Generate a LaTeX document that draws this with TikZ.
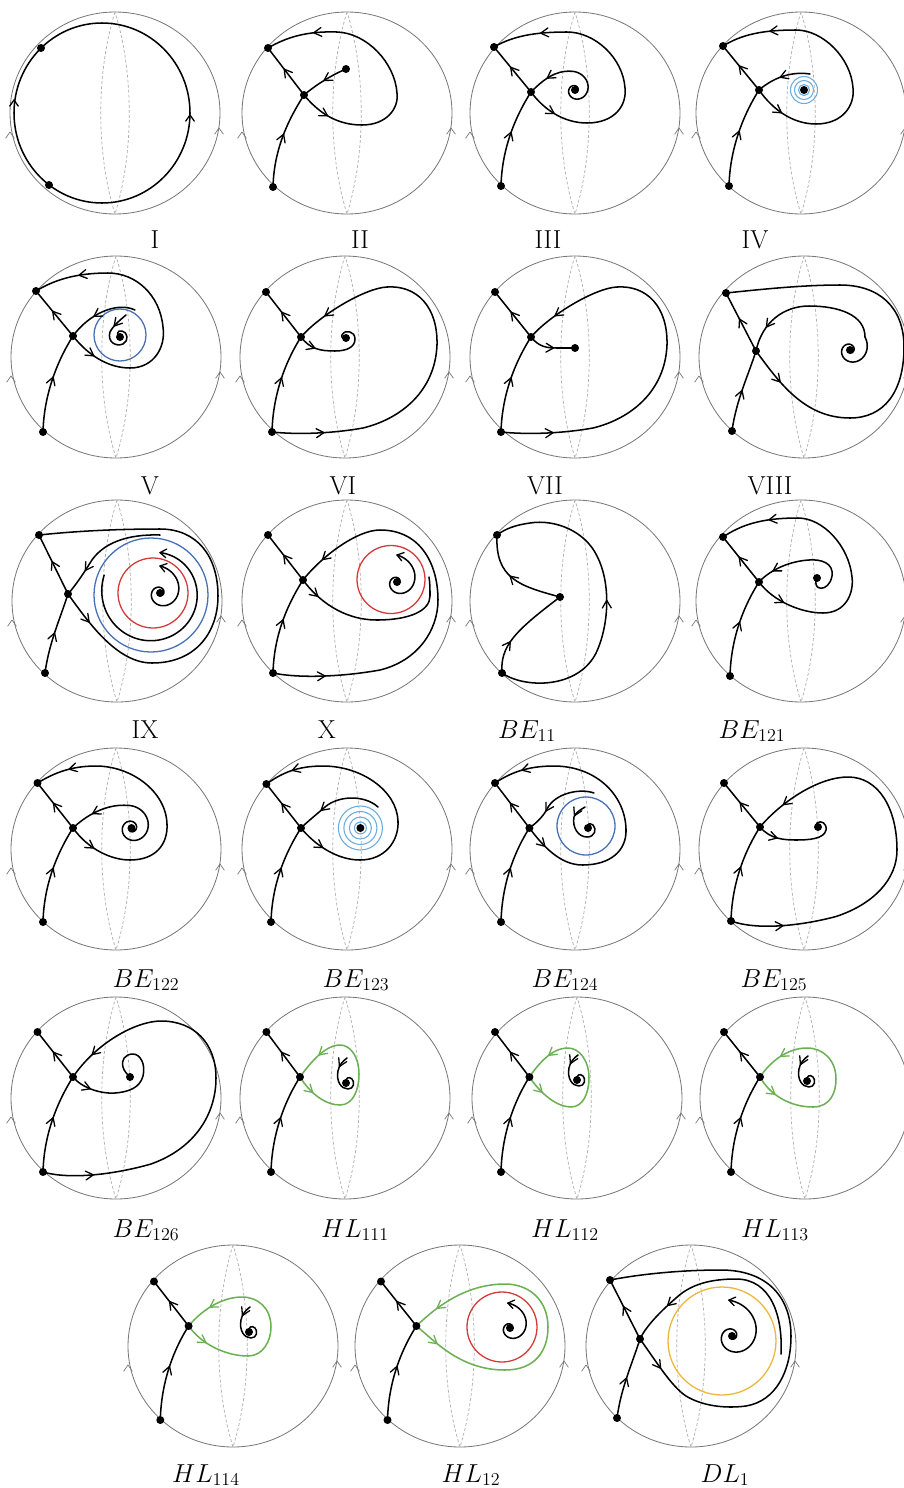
\documentclass[tikz,border=0pt]{standalone}
\usetikzlibrary{decorations.markings}
\definecolor{bndc}{RGB}{120,120,120}
\definecolor{lensc}{RGB}{175,175,175}
\definecolor{ltblue}{RGB}{105,172,222}
\definecolor{dblue}{RGB}{72,112,182}
\definecolor{redc}{RGB}{212,58,58}
\definecolor{grnc}{RGB}{108,176,84}
\definecolor{orc}{RGB}{238,182,62}
\tikzset{
 traj/.style={draw=black,line width=1.3pt,line cap=round,line join=round},
 grn/.style={draw=grnc,line width=1.3pt,line cap=round,line join=round},
 bnd/.style={draw=bndc,line width=0.7pt},
 lens/.style={draw=lensc,line width=0.6pt,dash pattern=on 2.5pt off 1.8pt},
 chevst/.style={draw=black,line width=1.1pt,line cap=round,line join=round,solid},
 gchevst/.style={draw=grnc,line width=1.1pt,line cap=round,line join=round,solid},
 bchev/.style={draw=bndc,line width=0.6pt,line cap=round,line join=round},
 marr/.style={postaction={decorate,decoration={markings,mark=at position #1 with {\draw[chevst] (-6.5pt,3.8pt) -- (0pt,0pt) -- (-6.5pt,-3.8pt);}}}},
 rarr/.style={postaction={decorate,decoration={markings,mark=at position #1 with {\draw[chevst] (6.5pt,3.8pt) -- (0pt,0pt) -- (6.5pt,-3.8pt);}}}},
 gmarr/.style={postaction={decorate,decoration={markings,mark=at position #1 with {\draw[gchevst] (-6.5pt,3.8pt) -- (0pt,0pt) -- (-6.5pt,-3.8pt);}}}},
 lbl/.style={anchor=base,font=\huge,scale=1.07,inner sep=0pt},
}
\newcommand\chev[4][chevst]{\draw[#1] ({#2},{#3}) ++(#4+145:7.5) -- ({#2},{#3}) -- ++(#4-145:7.5);}
\newcommand\pbase{%
 \draw[bnd] (0,0) ellipse [x radius=31.5mm, y radius=30.3mm];
 \draw[lens] (0,-101) .. controls (-19,-40) and (-19,40) .. (0,101) .. controls (19,40) and (19,-40) .. (0,-101);
 \chev[bchev]{-105}{19}{-90}
 \chev[bchev]{104}{15}{-90}}
\newcommand\legs{%
 \draw[traj,marr=0.55] (P2) .. controls +(1,-40) and +(-14,22) .. (S);
 \draw[traj,marr=0.55] (S) -- (P1);}
\newcommand\pdot[1]{\fill (#1) circle[radius=1.2mm];}
% inward clockwise spiral: cx cy r0 a0 decay span
\newcommand\spircw[6]{\draw[traj] plot[domain=0:#6,samples=110,smooth,variable=\t] ({#1+#3*exp(-\t/#5)*cos(#4+\t)},{#2+#3*exp(-\t/#5)*sin(#4+\t)});}
% outward counterclockwise spiral ending with an arrow: cx cy R A decay span
\newcommand\spout[6]{\draw[traj] plot[domain=0:#6,samples=130,smooth,variable=\t] ({#1+#3*exp((\t-#6)/#5)*cos(#4+#6-\t)},{#2+#3*exp((\t-#6)/#5)*sin(#4+#6-\t)});
 \chev{#1+#3*cos(#4)}{#2+#3*sin(#4)}{#4-74}}
\begin{document}
\begin{tikzpicture}[x=0.3mm,y=-0.3mm]
\useasboundingbox (0,0) rectangle (904,1488);
\fill[white] (0,0) rectangle (904,1488);
% ---------- I
\begin{scope}[shift={(115,113)}]
\pbase
\draw[traj] (-13,0) ellipse [x radius=26.4mm, y radius=27mm];
\coordinate (P1) at (-74,-65); \coordinate (P2) at (-66,72);
\chev{-101}{-13}{-90}
\chev{75}{2}{-90}
\pdot{P1}\pdot{P2}
\end{scope}
% ---------- II
\begin{scope}[shift={(347,113)}]
\pbase
\coordinate (P1) at (-79,-65); \coordinate (S) at (-43,-18); \coordinate (P2) at (-74,74); \coordinate (N) at (-1,-44);
\legs
\draw[traj,marr=0.5] (N) .. controls (-15,-38) and (-30,-29) .. (S);
\draw[traj,marr=0.11,marr=0.83] (S) .. controls (-28,0) and (-10,12) .. (15,12) .. controls (40,12) and (52,-5) .. (50,-20) .. controls (48,-50) and (20,-80) .. (-10,-81) .. controls (-40,-82) and (-60,-76) .. (P1);
\pdot{P1}\pdot{S}\pdot{P2}\pdot{N}
\end{scope}
% ---------- III
\begin{scope}[shift={(575,113)}]
\pbase
\coordinate (P1) at (-81,-66); \coordinate (S) at (-44,-21); \coordinate (P2) at (-74,73); \coordinate (F) at (0,-23);
\legs
\spircw{0}{-23}{19}{-100}{250}{500}
\draw[traj,marr=0.55] (-3.3,-41.7) .. controls (-20,-43) and (-32,-33) .. (S);
\draw[traj,marr=0.11,marr=0.83] (S) .. controls (-30,-2) and (-10,10) .. (12,10) .. controls (40,10) and (52,-8) .. (50,-25) .. controls (48,-55) and (20,-81) .. (-8,-81) .. controls (-40,-81) and (-62,-77) .. (P1);
\pdot{P1}\pdot{S}\pdot{P2}\pdot{F}
\end{scope}
% ---------- IV
\begin{scope}[shift={(801,113)}]
\pbase
\coordinate (P1) at (-78,-67); \coordinate (S) at (-42,-23); \coordinate (P2) at (-72,73); \coordinate (F) at (3,-23);
\foreach \r in {1.65mm,2.85mm,4.05mm} \draw[ltblue,line width=0.9pt] (F) circle[radius=\r];
\legs
\draw[traj,marr=0.55] (9,-39) .. controls (-10,-42) and (-28,-35) .. (S);
\draw[traj,marr=0.11,marr=0.83] (S) .. controls (-28,-3) and (-8,11) .. (15,11) .. controls (42,11) and (54,-8) .. (52,-25) .. controls (50,-55) and (22,-83) .. (-5,-83) .. controls (-40,-83) and (-60,-78) .. (P1);
\pdot{P1}\pdot{S}\pdot{P2}\pdot{F}
\end{scope}
% ---------- V
\begin{scope}[shift={(116,357)}]
\pbase
\coordinate (P1) at (-80,-66); \coordinate (S) at (-43,-21); \coordinate (P2) at (-73,75); \coordinate (F) at (4,-20);
\draw[dblue,line width=1.1pt] (4,-22) circle[radius=7.8mm];
\legs
\draw[traj,marr=0.6] (19,-47) .. controls (0,-56) and (-28,-42) .. (S);
\draw[traj,marr=0.22] (10,-42) .. controls (4,-37) and (-3,-31) .. (-6,-25) .. controls (-9,-15) and (0,-10) .. (7,-13) .. controls (13,-16) and (12,-25) .. (6,-26) .. controls (1,-27) and (0,-22) .. (F);
\draw[traj,marr=0.1,marr=0.84] (S) .. controls (-28,-2) and (-8,11) .. (14,11) .. controls (38,11) and (50,-10) .. (47,-30) .. controls (44,-62) and (20,-84) .. (-8,-84) .. controls (-40,-84) and (-62,-77) .. (P1);
\pdot{P1}\pdot{S}\pdot{P2}\pdot{F}
\end{scope}
% ---------- VI
\begin{scope}[shift={(345,357)}]
\pbase
\coordinate (P1) at (-79,-65); \coordinate (S) at (-44,-20); \coordinate (P2) at (-73,75); \coordinate (F) at (1,-19);
\legs
\draw[traj,marr=0.2] (S) .. controls (-35,-8) and (-25,-6) .. (-10,-6) .. controls (2,-6) and (10,-10) .. (10,-18) .. controls (10,-26) and (0,-28) .. (-3,-22) .. controls (-4,-19) and (-1,-18) .. (F);
\draw[traj,marr=0.13,marr=0.92] (P2) .. controls (-45,78) and (-10,76) .. (18,71) .. controls (55,62) and (90,35) .. (92,-12) .. controls (93,-50) and (72,-72) .. (42,-70) .. controls (20,-69) and (-25,-42) .. (S);
\pdot{P1}\pdot{S}\pdot{P2}\pdot{F}
\end{scope}
% ---------- VII
\begin{scope}[shift={(575,357)}]
\pbase
\coordinate (P1) at (-80,-65); \coordinate (S) at (-44,-20); \coordinate (P2) at (-74,75); \coordinate (N) at (0,-9);
\legs
\draw[traj,marr=0.55] (S) .. controls (-36,-10) and (-28,-9) .. (-18,-9) -- (N);
\draw[traj,marr=0.13,marr=0.92] (P2) .. controls (-45,78) and (-10,76) .. (18,71) .. controls (55,62) and (90,35) .. (92,-12) .. controls (93,-50) and (72,-72) .. (42,-70) .. controls (20,-69) and (-25,-42) .. (S);
\pdot{P1}\pdot{S}\pdot{P2}\pdot{N}
\end{scope}
% ---------- VIII
\begin{scope}[shift={(804,357)}]
\pbase
\coordinate (P1) at (-78,-64); \coordinate (S) at (-48,-6); \coordinate (P2) at (-72,74); \coordinate (F) at (46,-7);
\draw[traj,marr=0.5] (P2) .. controls +(4,-30) and +(-8,25) .. (S);
\draw[traj,marr=0.55] (S) -- (P1);
\draw[traj,marr=0.09] (S) .. controls (-25,25) and (0,61) .. (46,61) .. controls (80,61) and (100,35) .. (100,-10) .. controls (100,-50) and (75,-72) .. (36,-72) .. controls (0,-72) and (-40,-68) .. (P1);
\draw[traj,rarr=0.18] (S) .. controls (-42,-35) and (-20,-51) .. (5,-51) .. controls (35,-51) and (61,-42) .. (61,-20);
\spircw{46}{-7}{19.8}{-41}{250}{600}
\pdot{P1}\pdot{S}\pdot{P2}\pdot{F}
\end{scope}
% ---------- IX
\begin{scope}[shift={(117,601)}]
\pbase
\coordinate (P1) at (-78,-66); \coordinate (S) at (-49,-7); \coordinate (P2) at (-72,72); \coordinate (F) at (43,-8);
\draw[dblue,line width=1.1pt] (34,-6) circle[radius=17.1mm];
\draw[redc,line width=1.1pt] (36,-8) circle[radius=10.5mm];
\draw[traj,marr=0.5] (P2) .. controls +(4,-30) and +(-8,25) .. (S);
\draw[traj,marr=0.55] (S) -- (P1);
\draw[traj,marr=0.08] (S) .. controls (-28,22) and (0,62) .. (35,62) .. controls (80,62) and (101,30) .. (101,-5) .. controls (101,-45) and (80,-72) .. (43,-72) .. controls (0,-72) and (-40,-70) .. (P1);
\draw[traj,marr=0.75] (43,-66) .. controls (10,-67) and (-15,-58) .. (-27,-38) .. controls (-33,-28) and (-42,-15) .. (S);
\draw[traj] plot[domain=0:280,samples=80,smooth,variable=\t] ({36+(52-11*\t/280)*cos(200-\t)},{-8+(52-11*\t/280)*sin(200-\t)});
\chev{43.1}{-48.4}{187}
\spout{43}{-8}{27}{-90}{230}{720}
\pdot{P1}\pdot{S}\pdot{P2}\pdot{F}
\end{scope}
% ---------- X
\begin{scope}[shift={(347,601)}]
\pbase
\coordinate (P1) at (-79,-66); \coordinate (S) at (-44,-21); \coordinate (P2) at (-74,72); \coordinate (F) at (50,-19);
\draw[redc,line width=1.1pt] (44,-21.5) circle[radius=10.2mm];
\legs
\draw[traj,marr=0.13,marr=0.93] (P2) .. controls (-45,78) and (0,75) .. (33,69) .. controls (70,60) and (91,30) .. (91,-1) .. controls (91,-35) and (75,-71) .. (33,-71) .. controls (10,-71) and (-25,-45) .. (S);
\draw[traj,marr=0.13] (S) .. controls (-30,-2) and (-5,19) .. (30,19) .. controls (62,19) and (83,10) .. (83,-5) .. controls (83,-12) and (83,-18) .. (82,-24);
\spout{50}{-19}{27}{-90}{200}{720}
\pdot{P1}\pdot{S}\pdot{P2}\pdot{F}
\end{scope}
% ---------- BE11
\begin{scope}[shift={(575,601)}]
\pbase
\coordinate (P1) at (-78,-66); \coordinate (P2) at (-73,72); \coordinate (N) at (-15,-4);
\draw[traj,marr=0.55] (N) .. controls (-55,-15) and (-80,-22) .. (P1);
\draw[traj,marr=0.33] (P2) .. controls (-75,45) and (-60,30) .. (N);
\draw[traj,marr=0.5] (P2) .. controls (-50,88) and (5,88) .. (22,50) .. controls (35,20) and (35,-20) .. (22,-45) .. controls (10,-70) and (-20,-82) .. (-45,-78) .. controls (-60,-76) and (-70,-72) .. (P1);
\pdot{P1}\pdot{P2}\pdot{N}
\end{scope}
% ---------- BE121
\begin{scope}[shift={(801,601)}]
\pbase
\coordinate (P1) at (-78,-64); \coordinate (S) at (-42,-19); \coordinate (P2) at (-71,75); \coordinate (F) at (16,-23);
\legs
\draw[traj,marr=0.85] (F) .. controls (10,-10) and (28,-8) .. (31,-25) .. controls (33,-38) and (20,-42) .. (8,-41) .. controls (-10,-40) and (-30,-32) .. (S);
\draw[traj,marr=0.11,marr=0.83] (S) .. controls (-28,0) and (0,12) .. (22,12) .. controls (45,12) and (53,-8) .. (51,-24) .. controls (48,-55) and (22,-83) .. (-3,-83) .. controls (-40,-83) and (-60,-76) .. (P1);
\pdot{P1}\pdot{S}\pdot{P2}\pdot{F}
\end{scope}
% ---------- BE122
\begin{scope}[shift={(116,849)}]
\pbase
\coordinate (P1) at (-78.5,-66); \coordinate (S) at (-43,-21); \coordinate (P2) at (-73,73); \coordinate (F) at (15.5,-21);
\legs
\spircw{15.5}{-21}{23}{-100}{300}{700}
\draw[traj,marr=0.6] (11.5,-43.6) .. controls (-5,-45) and (-25,-38) .. (S);
\draw[traj,marr=0.1,marr=0.88] (S) .. controls (-28,0) and (-5,11) .. (14,11) .. controls (40,11) and (52,-5) .. (51,-25) .. controls (50,-58) and (15,-83) .. (-20,-83) .. controls (-45,-83) and (-62,-76) .. (P1);
\pdot{P1}\pdot{S}\pdot{P2}\pdot{F}
\end{scope}
% ---------- BE123
\begin{scope}[shift={(347,849)}]
\pbase
\coordinate (P1) at (-80.6,-65); \coordinate (S) at (-46,-21); \coordinate (P2) at (-76,73); \coordinate (F) at (13.4,-21);
\foreach \r in {1.8mm,3.3mm,4.95mm,6.6mm} \draw[ltblue,line width=0.9pt] (F) circle[radius=\r];
\legs
\draw[traj,marr=0.7] (31,-42) .. controls (18,-54) and (-8,-54) .. (-22,-42) .. controls (-30,-35) and (-40,-27) .. (S);
\draw[traj,marr=0.1,marr=0.9] (S) .. controls (-32,-4) and (-10,11) .. (13,11) .. controls (38,11) and (52,-8) .. (51,-28) .. controls (50,-58) and (15,-83) .. (-24,-83) .. controls (-50,-83) and (-65,-76) .. (P1);
\pdot{P1}\pdot{S}\pdot{P2}\pdot{F}
\end{scope}
% ---------- BE124
\begin{scope}[shift={(575,849)}]
\pbase
\coordinate (P1) at (-80,-66); \coordinate (S) at (-45.6,-21); \coordinate (P2) at (-74,73); \coordinate (F) at (13,-21);
\draw[dblue,line width=1.1pt] (11,-23) circle[radius=8.7mm];
\legs
\draw[traj,marr=0.7] (19,-56) .. controls (5,-61) and (-20,-56) .. (-28,-40) .. controls (-32,-32) and (-40,-25) .. (S);
\draw[traj,marr=0.2] (10,-42) .. controls (5,-39) and (0,-36) .. (-1,-32) .. controls (-3,-22) and (3,-12) .. (12,-12) .. controls (20,-12) and (22,-20) .. (18,-24) .. controls (14,-27) and (11,-24) .. (F);
\draw[traj,marr=0.08,marr=0.9] (S) .. controls (-32,-3) and (-15,16) .. (7.5,16) .. controls (35,16) and (52,2) .. (51,-20) .. controls (50,-55) and (20,-83) .. (-21,-83) .. controls (-48,-83) and (-65,-76) .. (P1);
\pdot{P1}\pdot{S}\pdot{P2}\pdot{F}
\end{scope}
% ---------- BE125
\begin{scope}[shift={(804,849)}]
\pbase
\coordinate (P1) at (-80,-66); \coordinate (S) at (-44,-22); \coordinate (P2) at (-73,72); \coordinate (F) at (14,-22);
\legs
\draw[traj,marr=0.22] (S) .. controls (-34,-10) and (-20,-9) .. (-8,-9) .. controls (5,-9) and (20,-10) .. (22,-19) .. controls (23,-26) and (17,-29) .. (13,-26) .. controls (11,-24) and (12,-22) .. (F);
\draw[traj,marr=0.13,marr=0.92] (P2) .. controls (-45,82) and (0,76) .. (32,67.5) .. controls (70,55) and (93,30) .. (93,1) .. controls (93,-40) and (75,-72) .. (44,-72) .. controls (15,-72) and (-22,-48) .. (S);
\pdot{P1}\pdot{S}\pdot{P2}\pdot{F}
\end{scope}
% ---------- BE126
\begin{scope}[shift={(116,1098)}]
\pbase
\coordinate (P1) at (-78.5,-66); \coordinate (S) at (-43,-21); \coordinate (P2) at (-73,74); \coordinate (F) at (14,-21);
\legs
\draw[traj,marr=0.15] (S) .. controls (-34,-10) and (-15,-4) .. (-1,-5) .. controls (12,-6) and (24,-10) .. (27,-22) .. controls (30,-34) and (24,-44) .. (17,-44) .. controls (9,-44) and (5,-38) .. (7,-31) .. controls (8,-27) and (11,-24) .. (F);
\draw[traj,marr=0.12,marr=0.93] (P2) .. controls (-45,82) and (0,76) .. (35,66) .. controls (80,50) and (100,15) .. (100,-20) .. controls (100,-55) and (78,-77) .. (45,-77) .. controls (20,-77) and (-20,-55) .. (S);
\pdot{P1}\pdot{S}\pdot{P2}\pdot{F}
\end{scope}
% ---------- HL111
\begin{scope}[shift={(345,1098)}]
\pbase
\coordinate (P1) at (-78.6,-66); \coordinate (S) at (-45,-21); \coordinate (P2) at (-74,74); \coordinate (F) at (1,-15);
\legs
\draw[grn,gmarr=0.11,gmarr=0.84] (S) .. controls (-35,-5) and (-20,7) .. (-5,7) .. controls (8,7) and (14,-8) .. (14,-24) .. controls (14,-42) and (5,-53) .. (-5,-53) .. controls (-20,-53) and (-35,-35) .. (S);
\draw[traj,marr=0.18] (2,-40) .. controls (-2,-37) and (-6,-33) .. (-7,-27) .. controls (-9,-17) and (-4,-9) .. (3,-9) .. controls (9,-9) and (10,-16) .. (7,-19) .. controls (4,-22) and (0,-20) .. (F);
\pdot{P1}\pdot{S}\pdot{P2}\pdot{F}
\end{scope}
% ---------- HL112
\begin{scope}[shift={(577,1098)}]
\pbase
\coordinate (P1) at (-82,-66); \coordinate (S) at (-47.6,-21); \coordinate (P2) at (-76,74); \coordinate (F) at (0,-18);
\legs
\draw[grn,gmarr=0.11,gmarr=0.84] (S) .. controls (-36,-4) and (-20,9) .. (-6,9) .. controls (6,9) and (12,-5) .. (12,-20) .. controls (12,-38) and (2,-50) .. (-9,-50) .. controls (-25,-50) and (-38,-35) .. (S);
\draw[traj,marr=0.18] (1,-43) .. controls (-3,-40) and (-7,-36) .. (-8,-30) .. controls (-10,-20) and (-5,-12) .. (2,-12) .. controls (8,-12) and (9,-19) .. (6,-22) .. controls (3,-25) and (-1,-23) .. (F);
\pdot{P1}\pdot{S}\pdot{P2}\pdot{F}
\end{scope}
% ---------- HL113
\begin{scope}[shift={(805,1098)}]
\pbase
\coordinate (P1) at (-81,-66); \coordinate (S) at (-45,-21); \coordinate (P2) at (-74,74); \coordinate (F) at (2,-17);
\legs
\draw[grn,gmarr=0.11,gmarr=0.86] (S) .. controls (-35,-3) and (-15,9) .. (8,9) .. controls (25,9) and (31,-5) .. (31,-19) .. controls (31,-38) and (18,-50) .. (2,-50) .. controls (-18,-50) and (-35,-36) .. (S);
\draw[traj,marr=0.18] (3,-42) .. controls (-1,-39) and (-5,-35) .. (-6,-29) .. controls (-8,-19) and (-3,-11) .. (4,-11) .. controls (10,-11) and (11,-18) .. (8,-21) .. controls (5,-24) and (1,-22) .. (F);
\pdot{P1}\pdot{S}\pdot{P2}\pdot{F}
\end{scope}
% ---------- HL114
\begin{scope}[shift={(233,1346)}]
\pbase
\coordinate (P1) at (-79,-64.5); \coordinate (S) at (-44.4,-20); \coordinate (P2) at (-72.7,74); \coordinate (F) at (16,-14);
\legs
\draw[grn,gmarr=0.11,gmarr=0.87] (S) .. controls (-30,0) and (-5,10) .. (15,10) .. controls (30,10) and (38,-5) .. (38,-19) .. controls (38,-38) and (25,-49) .. (9,-49) .. controls (-12,-49) and (-32,-35) .. (S);
\draw[traj,marr=0.18] (17,-39) .. controls (13,-36) and (9,-32) .. (8,-26) .. controls (6,-16) and (11,-8) .. (18,-8) .. controls (24,-8) and (25,-15) .. (22,-18) .. controls (19,-21) and (15,-19) .. (F);
\pdot{P1}\pdot{S}\pdot{P2}\pdot{F}
\end{scope}
% ---------- HL12
\begin{scope}[shift={(460,1346)}]
\pbase
\coordinate (P1) at (-79,-64.5); \coordinate (S) at (-43.6,-20); \coordinate (P2) at (-72.5,74); \coordinate (F) at (50,-18);
\draw[redc,line width=1.1pt] (42,-19) circle[radius=10.5mm];
\legs
\draw[grn,gmarr=0.08,gmarr=0.92] (S) .. controls (-25,-5) and (0,24) .. (45,24) .. controls (75,24) and (88,5) .. (88,-19) .. controls (88,-45) and (70,-62) .. (45,-62) .. controls (5,-62) and (-25,-38) .. (S);
\spout{50}{-18}{25}{-95}{200}{720}
\pdot{P1}\pdot{S}\pdot{P2}\pdot{F}
\end{scope}
% ---------- DL1
\begin{scope}[shift={(691,1346)}]
\pbase
\coordinate (P1) at (-81,-66); \coordinate (S) at (-51,-7); \coordinate (P2) at (-74,72); \coordinate (F) at (41,-10);
\draw[orc,line width=1.1pt] (31,-5) circle[radius=16.2mm];
\draw[traj,marr=0.5] (P2) .. controls +(4,-30) and +(-8,25) .. (S);
\draw[traj,marr=0.55] (S) -- (P1);
\draw[traj,marr=0.08] (S) .. controls (-35,15) and (-20,40) .. (-5,50) .. controls (15,62) and (40,62) .. (55,60) .. controls (85,55) and (100,25) .. (100,-10) .. controls (100,-50) and (75,-76) .. (30,-76) .. controls (-10,-76) and (-50,-72) .. (P1);
\draw[traj,marr=0.8] (90,8) .. controls (92,-30) and (80,-67) .. (45,-67) .. controls (20,-67) and (0,-62) .. (-15,-48) .. controls (-30,-35) and (-45,-20) .. (S);
\spout{41}{-10}{36}{-95}{220}{720}
\pdot{P1}\pdot{S}\pdot{P2}\pdot{F}
\end{scope}
% ---------- labels
\node[lbl] (lI) at (155,248) {I};
\node[lbl] (lII) at (360,248) {II};
\node[lbl] (lIII) at (548,248) {III};
\node[lbl] (lIV) at (755,248) {IV};
\node[lbl] (lV) at (150,494) {V};
\node[lbl] (lVI) at (343,494) {VI};
\node[lbl] (lVII) at (545,494) {VII};
\node[lbl] (lVIII) at (770,494) {VIII};
\node[lbl] (lIX) at (145,738) {IX};
\node[lbl] (lX) at (327,738) {X};
\node[lbl] (lBEa) at (527,738) {$BE_{11}$};
\node[lbl] (lBEb) at (752,738) {$BE_{121}$};
\node[lbl] (lBEc) at (146,987) {$BE_{122}$};
\node[lbl] (lBEd) at (356,987) {$BE_{123}$};
\node[lbl] (lBEe) at (565,987) {$BE_{124}$};
\node[lbl] (lBEf) at (774,987) {$BE_{125}$};
\node[lbl] (lBEg) at (146,1237) {$BE_{126}$};
\node[lbl] (lHLa) at (355,1237) {$HL_{111}$};
\node[lbl] (lHLb) at (565,1237) {$HL_{112}$};
\node[lbl] (lHLc) at (775,1237) {$HL_{113}$};
\node[lbl] (lHLd) at (206,1482) {$HL_{114}$};
\node[lbl] (lHLe) at (471,1482) {$HL_{12}$};
\node[lbl] (lDL) at (725,1482) {$DL_{1}$};
\end{tikzpicture}
\end{document}
